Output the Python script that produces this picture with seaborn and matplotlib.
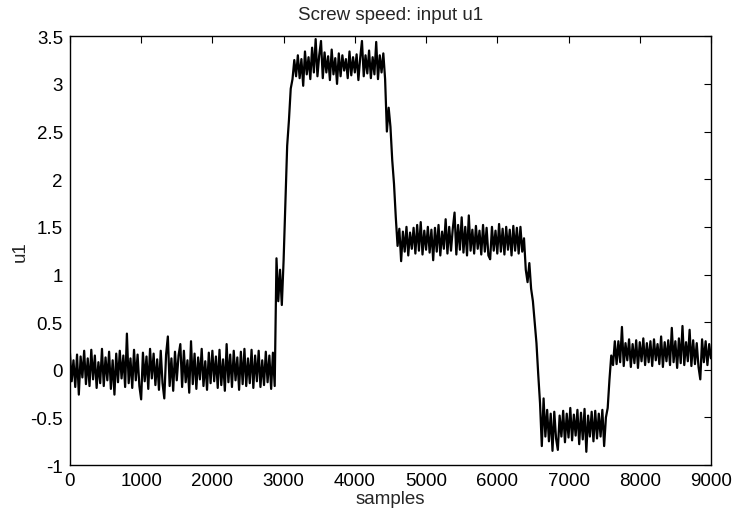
import numpy as np
import matplotlib
matplotlib.use("Agg")
import matplotlib.pyplot as plt
import seaborn as sns

# hand-read trace of u1, one value every 25 samples (0 .. 9000)
step = 25
u1_low_level = [
    0.18, -0.12, 0.10, -0.18, 0.16, -0.26, 0.14, -0.08, 0.20, -0.15,
    0.12, -0.17, 0.21, -0.10, 0.15, -0.19, 0.08, -0.14, 0.22, -0.17,
    0.13, -0.11, 0.19, -0.20, 0.10, -0.26, 0.17, -0.13, 0.20, -0.09,
    0.15, -0.18, 0.38, -0.14, 0.12, -0.19, 0.21, -0.11, 0.16, -0.17,
    -0.31, 0.18, -0.12, 0.14, -0.20, 0.22, -0.09, 0.17, -0.16, 0.11,
    -0.21, 0.20, -0.14, -0.30, 0.16, 0.35, -0.17, 0.12, -0.22, 0.19,
    -0.11, 0.15, 0.27, -0.18, 0.20, -0.13, 0.10, -0.24, 0.30, -0.15,
    0.17, -0.20, 0.13, -0.10, 0.22, -0.17, 0.09, -0.21, 0.18, -0.14,
    0.20, -0.12, 0.14, -0.19, 0.21, -0.16, 0.11, -0.22, 0.27, -0.13,
    0.16, -0.18, 0.20, -0.11, 0.13, -0.21, 0.19, -0.15, 0.22, -0.17,
    0.12, -0.14, 0.21, -0.19, 0.15, -0.12, 0.20, -0.18, 0.10, -0.16,
    0.19, -0.13, 0.15, -0.20, 0.18, -0.17,
]
u1_rise_1 = [1.17, 0.72, 1.05, 0.68, 1.15, 1.75, 2.35, 2.62, 2.95, 3.05, 3.25, 3.08]
u1_high_level = [
    3.30, 3.06, 3.26, 2.98, 3.34, 3.10, 3.28, 3.05, 3.38, 3.12,
    3.47, 3.08, 3.30, 3.45, 3.06, 3.33, 3.12, 3.29, 3.04, 3.36,
    3.10, 3.27, 3.00, 3.32, 3.08, 3.30, 3.14, 3.26, 3.06, 3.34,
    3.09, 3.28, 3.12, 3.31, 3.04, 3.27, 3.45, 3.08, 3.30, 3.11,
    3.35, 3.06, 3.28, 3.10, 3.44, 3.05, 3.30, 3.12, 3.32,
]
u1_fall_1 = [3.05, 2.50, 2.75, 2.55, 2.20, 1.95, 1.60, 1.30]
u1_mid_level = [
    1.48, 1.14, 1.45, 1.24, 1.50, 1.20, 1.44, 1.27, 1.49, 1.22,
    1.52, 1.25, 1.55, 1.21, 1.46, 1.26, 1.50, 1.23, 1.47, 1.15,
    1.49, 1.24, 1.52, 1.20, 1.45, 1.27, 1.58, 1.22, 1.50, 1.25,
    1.48, 1.65, 1.21, 1.52, 1.26, 1.60, 1.23, 1.50, 1.20, 1.62,
    1.25, 1.47, 1.22, 1.51, 1.27, 1.46, 1.21, 1.52, 1.24, 1.49,
    1.20, 1.16, 1.50, 1.25, 1.46, 1.22, 1.53, 1.24, 1.48, 1.21,
    1.50, 1.26, 1.47, 1.20, 1.51, 1.25, 1.49, 1.22, 1.50, 1.24,
]
u1_fall_2 = [1.38, 1.05, 0.92, 1.12, 0.85, 0.72, 0.50, 0.28, -0.05, -0.35, -0.80, -0.30]
u1_neg_level = [
    -0.70, -0.42, -0.75, -0.46, -0.85, -0.44, -0.72, -0.84, -0.48, -0.70,
    -0.43, -0.76, -0.46, -0.71, -0.40, -0.74, -0.47, -0.69, -0.42, -0.78,
    -0.45, -0.73, -0.41, -0.86, -0.48, -0.70, -0.44, -0.75, -0.43, -0.72,
    -0.46, -0.70, -0.42, -0.80, -0.50,
]
u1_rise_2 = [-0.40, -0.10, 0.15, 0.05, 0.30]
u1_end_level = [
    0.06, 0.30, 0.08, 0.45, 0.04, 0.28, 0.10, 0.32, 0.03, 0.27,
    0.07, 0.31, 0.02, 0.29, 0.09, 0.33, 0.05, 0.28, 0.08, 0.30,
    0.04, 0.32, 0.10, 0.27, 0.06, 0.35, 0.03, 0.29, 0.09, 0.31,
    0.05, 0.44, 0.08, 0.30, 0.02, 0.33, 0.07, 0.46, 0.05, 0.29,
    0.09, 0.42, 0.04, 0.31, 0.06, 0.28, 0.03, -0.10, 0.32, 0.08,
    0.30, 0.05, 0.27, 0.12,
]

u1 = (u1_low_level + u1_rise_1 + u1_high_level + u1_fall_1 + u1_mid_level
      + u1_fall_2 + u1_neg_level + u1_rise_2 + u1_end_level)
samples = np.arange(len(u1)) * step

xticks = [0, 1000, 2000, 3000, 4000, 5000, 6000, 7000, 8000, 9000]
yticks = [-1, -0.5, 0, 0.5, 1, 1.5, 2, 2.5, 3, 3.5]
ytick_labels = ["-1", "-0.5", "0", "0.5", "1", "1.5", "2", "2.5", "3", "3.5"]

sns.set_style("white")
plt.rcParams["font.family"] = ["Liberation Sans", "DejaVu Sans"]

fig = plt.figure(figsize=(7.36, 5.1), dpi=100)
ax = fig.add_axes([0.095, 0.086, 0.871, 0.841])

sns.lineplot(x=samples, y=u1, color="black", linewidth=1.6, estimator=None, ax=ax)

ax.set_xlim(0, 9000)
ax.set_ylim(-1, 3.5)
ax.set_xticks(xticks)
ax.set_xticklabels([str(t) for t in xticks])
ax.set_yticks(yticks)
ax.set_yticklabels(ytick_labels)
ax.tick_params(direction="in", length=5, width=0.8, top=True, right=True,
               labelsize=13.5, colors="black", pad=5)

for spine in ax.spines.values():
    spine.set_color("black")
    spine.set_linewidth(1.0)

ax.set_title("Screw speed: input u1", fontsize=13.5, pad=12.5)
ax.set_xlabel("samples", fontsize=13.5, labelpad=1)
ax.set_ylabel("u1", fontsize=13.5, labelpad=1)

fig.savefig("out.png", dpi=100)
